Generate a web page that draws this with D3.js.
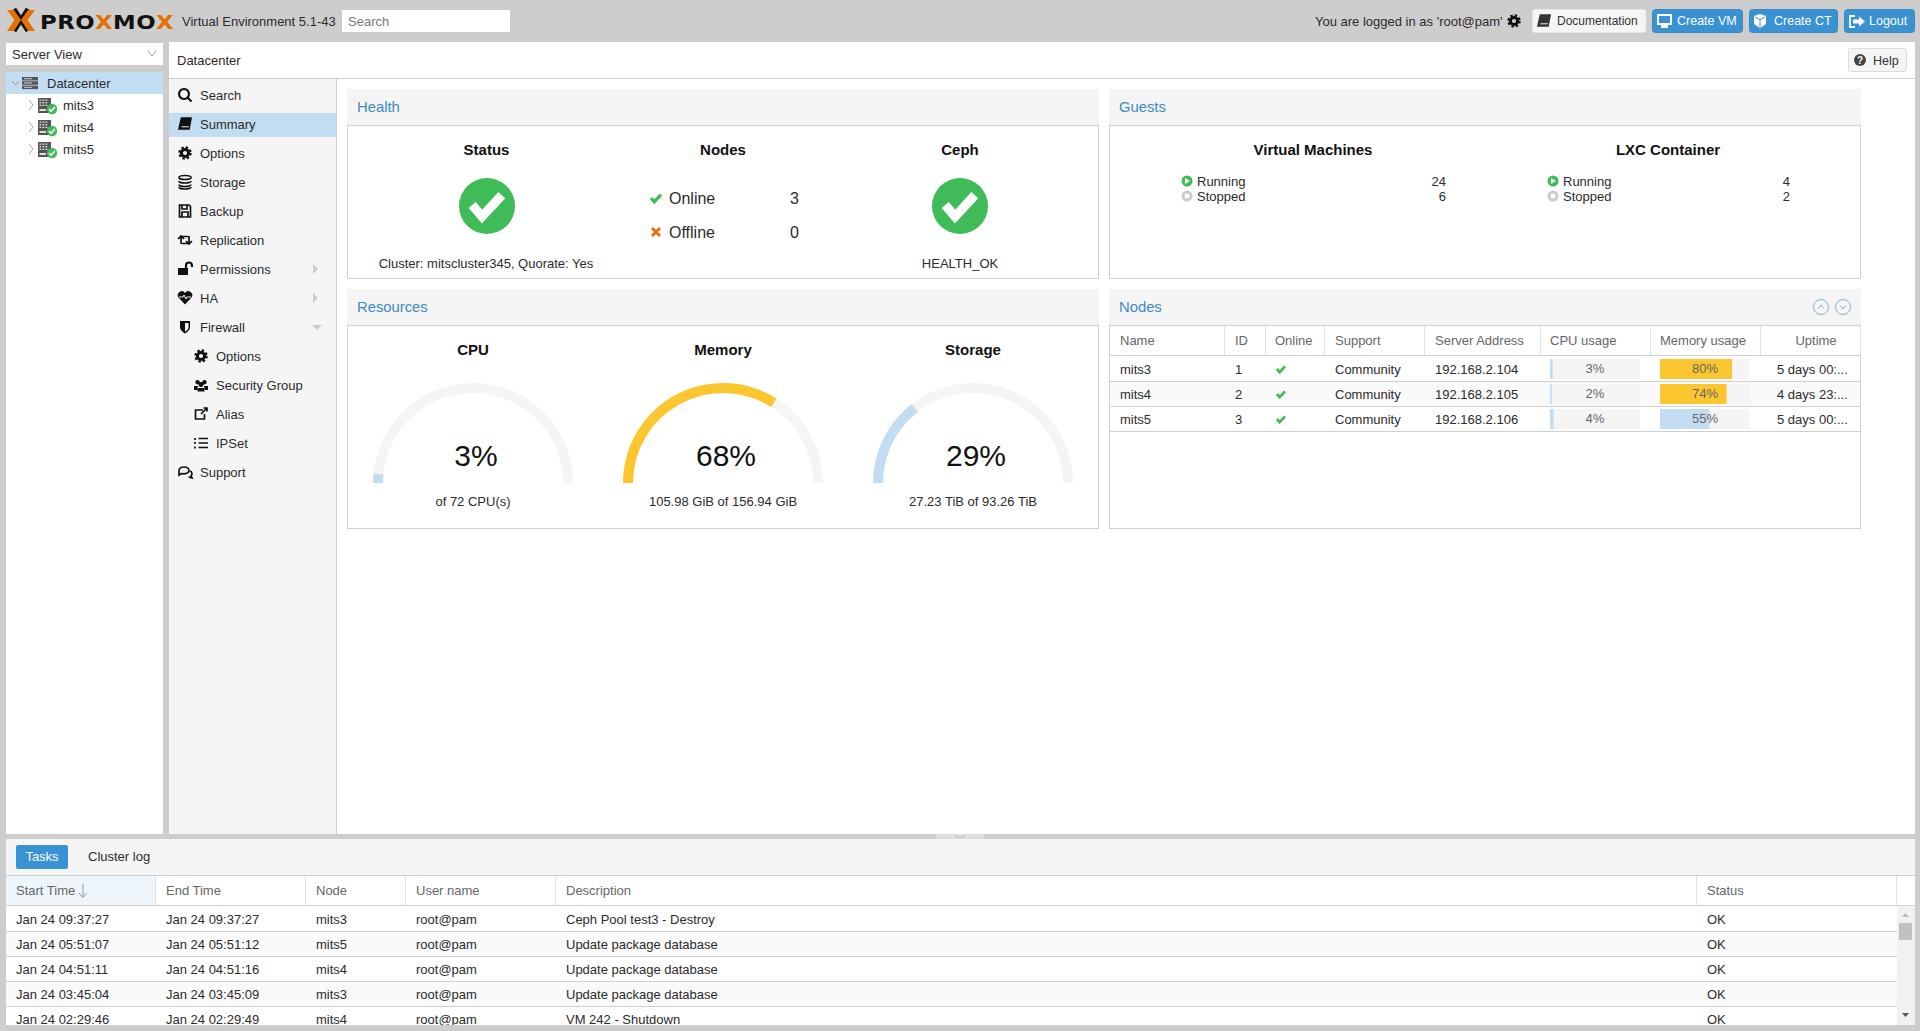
<!DOCTYPE html>
<html>
<head>
<meta charset="utf-8">
<title>Proxmox Virtual Environment</title>
<script src="https://cdn.jsdelivr.net/npm/d3@7"></script>
<style>
  html, body { margin: 0; padding: 0; background: #cdcdcd; overflow: hidden; }
  svg { display: block; }
  text { font-family: "Liberation Sans", Arial, sans-serif; font-size: 13px; fill: #222; }
</style>
</head>
<body>
<svg id="chart" width="1920" height="1031"></svg>
<script>
// tree and menu
var treeNodes = ["mits3", "mits4", "mits5"]
var navLabels = ["Search", "Summary", "Options", "Storage", "Backup", "Replication", "Permissions", "HA", "Firewall", "Options", "Security Group", "Alias", "IPSet", "Support"]
var navIcons = ["search", "book", "gear", "db", "save", "retweet", "unlock", "heart", "shield", "gear", "users", "link", "list", "comments"]
var navIndent = [0, 0, 0, 0, 0, 0, 0, 0, 0, 1, 1, 1, 1, 0]

// guests
var guestTitles = ["Virtual Machines", "LXC Container"]
var guestRunning = [24, 4]
var guestStopped = [6, 2]

// resources
var gaugeTitles = ["CPU", "Memory", "Storage"]
var gaugeValues = [3, 68, 29]
var gaugeLabels = ["of 72 CPU(s)", "105.98 GiB of 156.94 GiB", "27.23 TiB of 93.26 TiB"]

// nodes table
var nodeHeaders = ["Name", "ID", "Online", "Support", "Server Address", "CPU usage", "Memory usage", "Uptime"]
var nodeIds = [1, 2, 3]
var nodeSupport = ["Community", "Community", "Community"]
var nodeAddress = ["192.168.2.104", "192.168.2.105", "192.168.2.106"]
var nodeCpu = [3, 2, 4]
var nodeMem = [80, 74, 55]
var nodeUptime = ["5 days 00:...", "4 days 23:...", "5 days 00:..."]

// tasks table
var taskHeaders = ["Start Time", "End Time", "Node", "User name", "Description", "Status"]
var taskStart = ["Jan 24 09:37:27", "Jan 24 05:51:07", "Jan 24 04:51:11", "Jan 24 03:45:04", "Jan 24 02:29:46"]
var taskEnd = ["Jan 24 09:37:27", "Jan 24 05:51:12", "Jan 24 04:51:16", "Jan 24 03:45:09", "Jan 24 02:29:49"]
var taskNode = ["mits3", "mits5", "mits4", "mits3", "mits4"]
var taskUser = ["root@pam", "root@pam", "root@pam", "root@pam", "root@pam"]
var taskDesc = ["Ceph Pool test3 - Destroy", "Update package database", "Update package database", "Update package database", "VM 242 - Shutdown"]
var taskStatus = ["OK", "OK", "OK", "OK", "OK"]

var blue = "#3892d4", lightBlue = "#c2ddf2", yellow = "#fbc62f", green = "#3fbb57", orange = "#e57000"
var border = "#cfcfcf", soft = "#f5f5f5", titleBlue = "#3a8cc4", gray = "#666", ink = "#2b2b2b"

var svg = d3.select("#chart")

function box(p, x0, y0, x1, y1, fill, stroke, rx) {
  return p.append("rect").attr("x", x0).attr("y", y0).attr("width", x1 - x0).attr("height", y1 - y0)
    .attr("fill", fill).attr("stroke", stroke || "none").attr("rx", rx || 0)
}
function line(p, x0, y0, x1, y1, color) {
  return p.append("line").attr("x1", x0).attr("y1", y0).attr("x2", x1).attr("y2", y1)
    .attr("stroke", color || border).attr("stroke-width", 1)
}
function label(p, x, y, s, o) {
  o = o || {}
  return p.append("text").attr("x", x).attr("y", y).text(s)
    .attr("text-anchor", o.anchor || "start")
    .style("font-size", (o.size || 13) + "px")
    .style("font-weight", o.bold ? "bold" : "normal")
    .style("fill", o.color || ink)
}

// small icons, all drawn around 0,0
var iconPaths = {
  search: "M-1-6a5 5 0 1 0 .01 0zM3 3L6.5 6.5",
  book: "M-3.5-6H6L4 5H-6zM-3.5 2.500H4",
  db: "M-6-4.5a6 2 0 1 0 12 0a6 2 0 1 0-12 0zM-6-1a6 2 0 0 0 12 0M-6 2.500a6 2 0 0 0 12 0M-6 5a6 2 0 0 0 12 0",
  save: "M-5.500-6H4L5.500-4.500V6H-5.500zM-3-6V-2H2V-6M-3 6V1H3V6",
  retweet: "M-4 4V-3.500H3M-7-1L-4-4L-1-1M4-4V3.500H-3M1 1L4 4L7 1",
  link: "M2-4H-5.500V5H3.500V0M0 0L6-6M2.500-6H6V-2.500",
  list: "M-2.500-4.500H7M-2.500 0H7M-2.500 4.500H7M-6-5V-3M-6-1V1M-6 3.500V5.500",
  comments: "M-6-1.500a5 3.500 0 1 1 10 0a5 3.500 0 0 1-7 3L-6 3zM5-1a3 3 0 0 1 1 5L7 6L3.500 5"
}
var iconFills = {
  unlock: "M-7-1H3V6H-7zM1-1V-3.500a3 3 0 0 1 6 0V-2",
  heart: "M0 6.500L-6.500-.5a3.800 3.800 0 0 1 6.500-4.500a3.800 3.800 0 0 1 6.500 4.500z",
  shield: "M-5-6H5V0C5 3 2 5.500 0 6.500C-2 5.500-5 3-5 0z",
  users: "M-3.500-5a2.200 2.200 0 1 0 .01 0zM3.500-5a2.200 2.200 0 1 0 .01 0zM0-3a2.500 2.500 0 1 0 .01 0zM-7 1H-3L-4 5H-7zM7 1H3L4 5H7zM-3.500 3H3.500V6.500H-3.500z"
}
function icon(p, name, x, y, color) {
  color = color || "#111"
  var g = p.append("g").attr("transform", "translate(" + x + "," + y + ")")
  if (name == "gear") {
    g.append("circle").attr("r", 3.6).attr("fill", "none").attr("stroke", color).attr("stroke-width", 3)
    g.append("circle").attr("r", 5.6).attr("fill", "none").attr("stroke", color).attr("stroke-width", 2.2).attr("stroke-dasharray", "2.4 2")
  } else if (name == "unlock") {
    box(g, -7, -1, 3, 6, color)
    g.append("path").attr("d", "M1-1V-3.500a3 3 0 0 1 6 0V-2").attr("fill", "none").attr("stroke", color).attr("stroke-width", 2.2)
  } else if (iconFills[name]) {
    g.append("path").attr("d", iconFills[name]).attr("fill", color)
    if (name == "heart") g.append("path").attr("d", "M-6-1H-2L-1-3L1 1L2-1H6").attr("stroke", "#f5f5f5").attr("stroke-width", 1).attr("fill", "none")
    if (name == "shield") g.append("path").attr("d", "M0-4H3.500V0C3.500 2 2 3.500 0 4.500z").attr("fill", "#f5f5f5")
  } else if (iconPaths[name]) {
    g.append("path").attr("d", iconPaths[name]).attr("fill", name == "book" ? color : "none").attr("stroke", color)
      .attr("stroke-width", name == "search" ? 2.2 : 1.7)
    if (name == "book") g.append("path").attr("d", "M-3.500 2.800H3.800").attr("stroke", "#eee").attr("stroke-width", 1)
  }
  return g
}
function check(p, x, y, k, color, width) {
  return p.append("path").attr("d", "M-9 0L-3 7L9-6").attr("transform", "translate(" + x + "," + y + ") scale(" + k + ")")
    .attr("fill", "none").attr("stroke", color).attr("stroke-width", width)
}
function serverIcon(p, x, y) {
  var g = p.append("g").attr("transform", "translate(" + x + "," + y + ")")
  box(g, -9, -7, 4, 8, "#555")
  d3.range(3).forEach(function (r) {
    d3.range(3).forEach(function (c) {
      box(g, -7.5 + c * 3, -5.5 + r * 2.6, -5.7 + c * 3, -4.2 + r * 2.6, "#ddd")
    })
  })
  box(g, -7.5, 4, -1, 6, "#ddd")
  g.append("circle").attr("cx", 5).attr("cy", 4).attr("r", 5.2).attr("fill", green)
  check(g, 5, 4, 0.32, "#fff", 5)
}

// ---------- top bar
var logo = svg.append("g")
logo.append("path").attr("d", "M14 9L28 31M28 9L14 31").attr("stroke", "#111").attr("stroke-width", 5).attr("fill", "none")
logo.append("path").attr("d", "M7 10H14L21 20L14 31H7L14.500 20z").attr("fill", orange)
logo.append("path").attr("d", "M35 10H28L21 20L28 31H35L27.500 20z").attr("fill", orange)
var brand = logo.append("text").attr("transform", "translate(40,29) scale(1.14,1)")
  .style("font-family", "'DejaVu Sans', sans-serif").style("font-weight", "bold").style("font-size", "20px").style("letter-spacing", "0.4px")
;[["PRO", "#111"], ["X", orange], ["MO", "#111"], ["X", orange]].forEach(function (d) {
  brand.append("tspan").text(d[0]).style("fill", d[1])
})
label(svg, 182, 26, "Virtual Environment 5.1-43")
box(svg, 342, 10, 510, 32, "#fff")
label(svg, 348, 26, "Search", { color: "#777" })
label(svg, 1315, 26, "You are logged in as 'root@pam'")
icon(svg, "gear", 1514, 21)

box(svg, 1532.5, 9.5, 1646, 32.5, soft, "#e4e4e4", 2)
icon(svg, "book", 1544, 21, "#333")
label(svg, 1557, 25, "Documentation", { size: 12, color: "#333" })
var topButtons = [["Create VM", 1652, 1743], ["Create CT", 1749, 1838], ["Logout", 1844, 1915]]
topButtons.forEach(function (b) {
  box(svg, b[1] + 0.5, 9.5, b[2] - 0.5, 32.500, blue, "#3f88bb", 3)
  label(svg, b[1] + 25, 25, b[0], { size: 12.5, color: "#fff" })
})
box(svg, 1657, 14, 1672, 25, "#fff")
box(svg, 1659, 16, 1670, 23, blue)
box(svg, 1661, 25, 1668, 28, "#fff")
svg.append("path").attr("d", "M1754 16L1760 14L1766 16V24L1760 28L1754 24z").attr("fill", "#fff")
svg.append("path").attr("d", "M1755 17L1760 19.500L1765 17M1760 19.500V27").attr("fill", "none").attr("stroke", blue)
svg.append("path").attr("d", "M1855 16H1850V27H1855").attr("fill", "none").attr("stroke", "#fff").attr("stroke-width", 1.8)
svg.append("path").attr("d", "M1853 19.500H1859V16.500L1865 21.500L1859 26.500V23.500H1853z").attr("fill", "#fff")

// ---------- left tree
box(svg, 6, 43, 163, 65, "#fff")
label(svg, 12, 59, "Server View")
svg.append("path").attr("d", "M148 51L152 56L156 51").attr("fill", "none").attr("stroke", "#999")
box(svg, 6, 72, 163, 834, "#fff")
box(svg, 6, 72, 163, 94, lightBlue)
svg.append("path").attr("d", "M12 81L15.500 85L19 81").attr("fill", "none").attr("stroke", "#999")
d3.range(3).forEach(function (i) {
  box(svg, 22, 77 + i * 4.3, 38, 80.5 + i * 4.3, "#555")
  box(svg, 24, 78.2 + i * 4.3, 32, 79.2 + i * 4.3, "#ccc")
})
label(svg, 47, 88, "Datacenter")
var treeY = d3.scaleBand().domain(treeNodes).range([94, 160])
treeNodes.forEach(function (n) {
  var y = treeY(n) + treeY.bandwidth() / 2
  svg.append("path").attr("d", "M29 " + (y - 5) + "L33 " + y + "L29 " + (y + 5)).attr("fill", "none").attr("stroke", "#aaa")
  serverIcon(svg, 47, y)
  label(svg, 63, y + 5, n)
})

// ---------- main area
box(svg, 169, 42, 1915, 834, "#fff")
line(svg, 169, 78.5, 1915, 78.5)
label(svg, 177, 65, "Datacenter")
box(svg, 1848.5, 48.500, 1906.5, 71.500, soft, "#dcdcdc", 2)
svg.append("circle").attr("cx", 1860).attr("cy", 60).attr("r", 6).attr("fill", "#444")
label(svg, 1860, 64, "?", { size: 10, color: "#fff", anchor: "middle", bold: true })
label(svg, 1873, 64.500, "Help", { size: 12.5, color: "#333" })

// ---------- menu
box(svg, 169, 79, 336, 834, soft)
line(svg, 336.5, 79, 336.5, 834)
box(svg, 169, 113, 336, 137, lightBlue)
var navY = d3.scaleLinear().domain([0, navLabels.length - 1]).range([95, 472])
navLabels.forEach(function (s, i) {
  var y = navY(i), x = navIndent[i] ? 216 : 200
  icon(svg, navIcons[i], x - 15, y)
  label(svg, x, y + 5, s)
})
;[6, 7].forEach(function (i) {
  svg.append("path").attr("d", "M313 " + (navY(i) - 5) + "L318 " + navY(i) + "L313 " + (navY(i) + 5) + "z").attr("fill", "#ccc")
})
svg.append("path").attr("d", "M312 " + (navY(8) - 2) + "H322L317 " + (navY(8) + 3) + "z").attr("fill", "#ccc")

// ---------- panels
function panel(title, x0, x1, top, head, bottom) {
  box(svg, x0, top, x1, head, soft)
  box(svg, x0 + 0.5, head + 0.5, x1 - 0.5, bottom - 0.5, "#fff", border)
  label(svg, x0 + 10, top + 23, title, { size: 14.8, color: titleBlue })
}
panel("Health", 347, 1099, 89, 125, 279)
panel("Guests", 1109, 1861, 89, 125, 279)
panel("Resources", 347, 1099, 289, 325, 529)
panel("Nodes", 1109, 1861, 289, 325, 529)

// health
label(svg, 486.5, 155, "Status", { size: 15, bold: true, anchor: "middle", color: "#111" })
label(svg, 723, 155, "Nodes", { size: 15, bold: true, anchor: "middle", color: "#111" })
label(svg, 960, 155, "Ceph", { size: 15, bold: true, anchor: "middle", color: "#111" })
;[487, 960].forEach(function (x) {
  svg.append("circle").attr("cx", x).attr("cy", 206).attr("r", 28).attr("fill", green)
  check(svg, x, 205, 1.65, "#fff", 5.6)
})
check(svg, 656, 198, 0.55, green, 6)
svg.append("path").attr("d", "M652 228L660 236M660 228L652 236").attr("stroke", orange).attr("stroke-width", 3).attr("fill", "none")
label(svg, 669, 204, "Online", { size: 16 })
label(svg, 669, 238, "Offline", { size: 16 })
label(svg, 790, 204, "3", { size: 16 })
label(svg, 790, 238, "0", { size: 16 })
label(svg, 486, 268, "Cluster: mitscluster345, Quorate: Yes", { anchor: "middle" })
label(svg, 960, 268, "HEALTH_OK", { anchor: "middle" })

// guests
var guestX = d3.scaleOrdinal().domain(guestTitles).range([1187, 1553])
var guestTitleX = d3.scaleOrdinal().domain(guestTitles).range([1313, 1668])
var guestValueX = d3.scaleOrdinal().domain(guestTitles).range([1446, 1790])
guestTitles.forEach(function (t, i) {
  var x = guestX(t)
  label(svg, guestTitleX(t), 155, t, { size: 15, bold: true, anchor: "middle", color: "#111" })
  svg.append("circle").attr("cx", x).attr("cy", 181).attr("r", 5.5).attr("fill", green)
  svg.append("path").attr("d", "M" + (x - 2) + " 178L" + (x + 3) + " 181L" + (x - 2) + " 184z").attr("fill", "#fff")
  svg.append("circle").attr("cx", x).attr("cy", 196).attr("r", 4).attr("fill", "#fff").attr("stroke", "#ccc").attr("stroke-width", 3)
  label(svg, x + 10, 186, "Running")
  label(svg, x + 10, 201, "Stopped")
  label(svg, guestValueX(t), 186, guestRunning[i], { anchor: "end" })
  label(svg, guestValueX(t), 201, guestStopped[i], { anchor: "end" })
})

// gauges
var gaugeX = d3.scalePoint().domain(gaugeTitles).range([473, 973])
var gaugeAngle = d3.scaleLinear().domain([0, 100]).range([-Math.PI / 2, Math.PI / 2])
var gaugeArc = d3.arc().innerRadius(90).outerRadius(100).startAngle(-Math.PI / 2)
function gaugeColor(v) { return v > 60 ? yellow : lightBlue }
gaugeTitles.forEach(function (t, i) {
  var g = svg.append("g").attr("transform", "translate(" + gaugeX(t) + ",483)")
  g.append("path").attr("d", gaugeArc({ endAngle: Math.PI / 2 })).attr("fill", soft)
  g.append("path").attr("d", gaugeArc({ endAngle: gaugeAngle(gaugeValues[i]) })).attr("fill", gaugeColor(gaugeValues[i]))
  label(g, 3, -17.5, gaugeValues[i] + "%", { size: 30, anchor: "middle", color: "#111" })
  label(g, 0, 23, gaugeLabels[i], { anchor: "middle" })
  label(g, 0, -128, t, { size: 15, bold: true, anchor: "middle", color: "#111" })
})

// nodes panel buttons
;[1821, 1843].forEach(function (x, i) {
  svg.append("circle").attr("cx", x).attr("cy", 307).attr("r", 7.5).attr("fill", "none").attr("stroke", "#7fb3d8")
  var d = i ? "M" + (x - 3) + " 305.500L" + x + " 309L" + (x + 3) + " 305.500" : "M" + (x - 3) + " 308.500L" + x + " 305L" + (x + 3) + " 308.500"
  svg.append("path").attr("d", d).attr("fill", "none").attr("stroke", "#7fb3d8")
})

// nodes table
var nodeEdges = [1109, 1224, 1265, 1324, 1424, 1540, 1650, 1760, 1860]
var nodeText = [1120, 1235, 1275, 1335, 1435, 1550, 1660]
box(svg, 1110, 326, 1860, 355, "#fff")
line(svg, 1109, 355.5, 1861, 355.5)
nodeHeaders.forEach(function (h, i) {
  if (i < 7) label(svg, nodeText[i], 345, h, { color: gray })
  else label(svg, 1816, 345, h, { color: gray, anchor: "middle" })
  line(svg, nodeEdges[i + 1] + 0.5, 326, nodeEdges[i + 1] + 0.5, 355, "#e2e2e2")
})
var rowY = d3.scaleBand().domain(treeNodes).range([356, 431])
var cpuX = d3.scaleLinear().domain([0, 100]).range([0, 90])
var memX = d3.scaleLinear().domain([0, 100]).range([0, 90])
function meter(x, y, v, scale, color) {
  box(svg, x, y, x + scale(100), y + 20, soft)
  box(svg, x, y, x + scale(v), y + 20, color)
  label(svg, x + scale(50), y + 14, v + "%", { anchor: "middle", color: gray })
}
treeNodes.forEach(function (n, i) {
  if (i == 1) box(svg, 1110, rowY(n), 1860, rowY(n) + 25, "#fafafa")
})
treeNodes.forEach(function (n, i) {
  var top = rowY(n), y = top + 17.5
  line(svg, 1109, top + 25.5, 1861, top + 25.5)
  label(svg, nodeText[0], y, n)
  label(svg, nodeText[1], y, nodeIds[i])
  check(svg, 1281, top + 13, 0.45, green, 6)
  label(svg, nodeText[3], y, nodeSupport[i])
  label(svg, nodeText[4], y, nodeAddress[i])
  meter(1550, top + 3, nodeCpu[i], cpuX, lightBlue)
  meter(1660, top + 3, nodeMem[i], memX, nodeMem[i] > 60 ? yellow : lightBlue)
  label(svg, 1777, y, nodeUptime[i])
})

// ---------- bottom tasks panel
box(svg, 936, 834, 984, 839, "#dedede")
svg.append("path").attr("d", "M955 835.500L960 838L965 835.500").attr("fill", "none").attr("stroke", "#bbb")
box(svg, 6, 839, 1915, 875, soft)
box(svg, 16, 845, 68, 869, blue, null, 2)
label(svg, 42, 861, "Tasks", { anchor: "middle", color: "#fff" })
label(svg, 88, 861, "Cluster log")
box(svg, 6, 875, 1915, 1025, "#fff")
box(svg, 6, 876, 155, 905, "#eef5fb")
line(svg, 6, 875.5, 1915, 875.5)
line(svg, 6, 905.5, 1915, 905.5)

var taskEdges = [155.5, 305.5, 405.5, 555.5, 1696.5, 1896.5]
var taskText = [16, 166, 316, 416, 566, 1707]
taskHeaders.forEach(function (h, i) {
  label(svg, taskText[i], 895, h, { color: gray })
  line(svg, taskEdges[i], 876, taskEdges[i], 905, "#e2e2e2")
})
svg.append("path").attr("d", "M83 884V897M79 893L83 897.500L87 893").attr("fill", "none").attr("stroke", "#999")

var taskRow = d3.scaleBand().domain(d3.range(taskStart.length)).range([906, 1031])
var rowsClip = svg.append("defs").append("clipPath").attr("id", "tasksClip")
box(rowsClip, 6, 906, 1897, 1025, "#fff")
var rows = svg.append("g").attr("clip-path", "url(#tasksClip)")
taskStart.forEach(function (d, i) {
  if (i % 2) box(rows, 6, taskRow(i), 1897, taskRow(i) + 25, "#fafafa")
})
taskStart.forEach(function (d, i) {
  var top = taskRow(i), y = top + 18
  if (i < 4) line(rows, 6, top + 25.5, 1897, top + 25.5)
  ;[d, taskEnd[i], taskNode[i], taskUser[i], taskDesc[i], taskStatus[i]].forEach(function (s, c) {
    label(rows, taskText[c], y, s)
  })
})

// scrollbar
box(svg, 1897, 906, 1915, 1025, "#f1f1f1")
box(svg, 1899, 923, 1912, 940, "#c1c1c1")
svg.append("path").attr("d", "M1902 917L1905.500 913L1909 917z").attr("fill", "#bbb")
svg.append("path").attr("d", "M1902 1013L1905.500 1017L1909 1013z").attr("fill", "#555")
</script>
</body>
</html>
